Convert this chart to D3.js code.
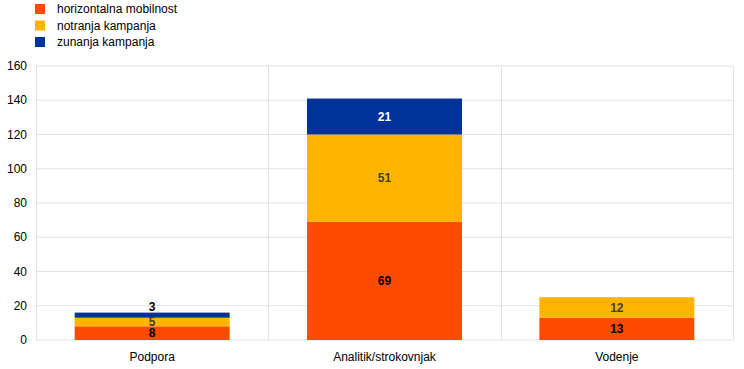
<!DOCTYPE html>
<html>
<head>
<meta charset="utf-8">
<script src="https://cdn.jsdelivr.net/npm/d3@7"></script>
<style>
  body { margin: 0; background: #fff; }
  text { font-family: "Liberation Sans", Arial, sans-serif; }
</style>
</head>
<body>
<div id="chart"></div>
<script>
const categories = ["Podpora", "Analitik/strokovnjak", "Vodenje"];
const seriesNames = ["horizontalna mobilnost", "notranja kampanja", "zunanja kampanja"];
const horizontal = [8, 69, 13];
const internal = [5, 51, 12];
const external = [3, 21, 0];
const yTicks = [0, 20, 40, 60, 80, 100, 120, 140, 160];

const colors = ["#ff4b00", "#ffb400", "#003299"];
const labelColors = ["#000", "#404040", "#fff"];

const width = 744, height = 369;
const margin = {top: 66, right: 11, bottom: 29, left: 36};

const svg = d3.select("#chart").append("svg")
  .attr("width", width)
  .attr("height", height);

const x = d3.scaleBand()
  .domain(categories)
  .range([margin.left, width - margin.right])
  .paddingInner(0)
  .paddingOuter(0);

const y = d3.scaleLinear()
  .domain([0, 160])
  .range([height - margin.bottom, margin.top]);

// grid
svg.append("g")
  .selectAll("line")
  .data(yTicks)
  .join("line")
    .attr("x1", margin.left)
    .attr("x2", width - margin.right)
    .attr("y1", d => y(d))
    .attr("y2", d => y(d))
    .attr("stroke", "#e1e1e1")
    .attr("stroke-width", 1);

// vertical borders / separators
const seps = [margin.left].concat(categories.map(c => x(c) + x.bandwidth()));
svg.append("g")
  .selectAll("line")
  .data(seps)
  .join("line")
    .attr("x1", d => Math.round(d) + 0.5)
    .attr("x2", d => Math.round(d) + 0.5)
    .attr("y1", y(160))
    .attr("y2", y(0))
    .attr("stroke", "#e1e1e1");

// y axis labels
svg.append("g")
  .selectAll("text")
  .data(yTicks)
  .join("text")
    .attr("x", margin.left - 9)
    .attr("y", d => y(d))
    .attr("dy", "0.35em")
    .attr("text-anchor", "end")
    .attr("font-size", 12)
    .attr("fill", "#000")
    .text(d => d);

// x axis labels
svg.append("g")
  .selectAll("text")
  .data(categories)
  .join("text")
    .attr("x", d => x(d) + x.bandwidth() / 2)
    .attr("y", height - margin.bottom + 21)
    .attr("text-anchor", "middle")
    .attr("font-size", 12)
    .attr("fill", "#000")
    .text(d => d);

// stacked bars
const rows = categories.map((c, i) => ({cat: c, s0: horizontal[i], s1: internal[i], s2: external[i]}));
const stack = d3.stack().keys(["s0", "s1", "s2"]);
const stacked = stack(rows);

const barW = x.bandwidth() * 0.667;

stacked.forEach((layer, k) => {
  const g = svg.append("g");
  g.selectAll("rect")
    .data(layer.filter(d => d[1] - d[0] > 0))
    .join("rect")
      .attr("x", d => x(d.data.cat) + (x.bandwidth() - barW) / 2)
      .attr("width", barW)
      .attr("y", d => y(d[1]))
      .attr("height", d => y(d[0]) - y(d[1]))
      .attr("fill", colors[k]);
});

stacked.forEach((layer, k) => {
  svg.append("g")
    .selectAll("text")
    .data(layer.filter(d => d[1] - d[0] > 0))
    .join("text")
      .attr("x", d => x(d.data.cat) + x.bandwidth() / 2)
      .attr("y", d => {
        const h = y(d[0]) - y(d[1]);
        // small top segment: label sits above the bar
        if (k === 2 && h < 10) return y(d[1]) - 6;
        return (y(d[0]) + y(d[1])) / 2;
      })
      .attr("dy", "0.35em")
      .attr("text-anchor", "middle")
      .attr("font-size", 12)
      .attr("font-weight", "bold")
      .attr("fill", d => (k === 2 && y(d[0]) - y(d[1]) < 10) ? "#000" : labelColors[k])
      .text(d => d[1] - d[0]);
});

// legend
const legend = svg.append("g");
seriesNames.forEach((name, i) => {
  const ly = 9 + i * 16.5;
  legend.append("rect")
    .attr("x", 35)
    .attr("y", ly - 5)
    .attr("width", 10)
    .attr("height", 10)
    .attr("fill", colors[i]);
  legend.append("text")
    .attr("x", 57)
    .attr("y", ly)
    .attr("dy", "0.35em")
    .attr("font-size", 12)
    .attr("fill", "#000")
    .text(name);
});
</script>
</body>
</html>
